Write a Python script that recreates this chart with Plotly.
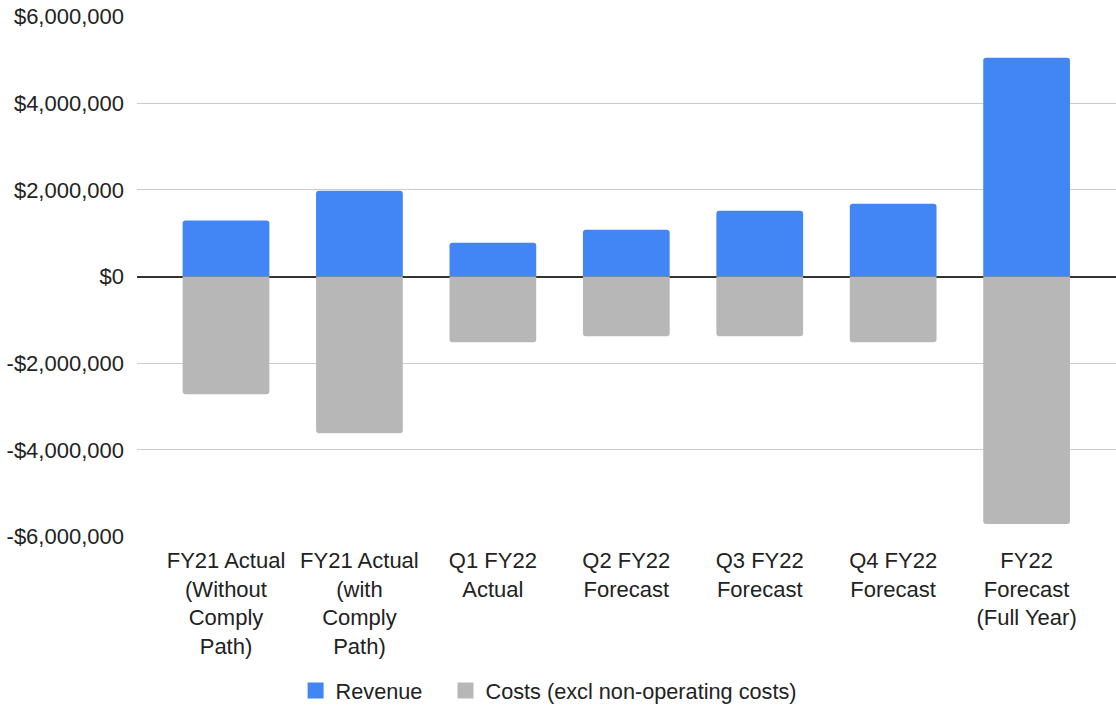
import plotly.graph_objects as go

categories = [
    "FY21 Actual<br>(Without<br>Comply<br>Path)",
    "FY21 Actual<br>(with<br>Comply<br>Path)",
    "Q1 FY22<br>Actual",
    "Q2 FY22<br>Forecast",
    "Q3 FY22<br>Forecast",
    "Q4 FY22<br>Forecast",
    "FY22<br>Forecast<br>(Full Year)",
]
revenue = [1290000, 1980000, 780000, 1080000, 1520000, 1680000, 5050000]
costs = [-2720000, -3620000, -1520000, -1380000, -1380000, -1520000, -5710000]
tick_vals = [-6000000, -4000000, -2000000, 0, 2000000, 4000000, 6000000]
tick_text = ["-$6,000,000", "-$4,000,000", "-$2,000,000", "$0", "$2,000,000", "$4,000,000", "$6,000,000"]
series_names = ["Revenue", "Costs (excl non-operating costs)"]

REV_COLOR = "#4285f4"
COST_COLOR = "#b7b7b7"

x_idx = list(range(len(categories)))
fig = go.Figure()
fig.add_trace(go.Bar(x=x_idx, y=revenue, name=series_names[0], showlegend=False,
                     marker=dict(color=REV_COLOR, line=dict(width=0), cornerradius=3), width=0.65))
fig.add_trace(go.Bar(x=x_idx, y=costs, name=series_names[1], showlegend=False,
                     marker=dict(color=COST_COLOR, line=dict(width=0)), width=0.65))
# legend entries with larger square swatches
fig.add_trace(go.Scatter(x=[None], y=[None], mode="markers", name=series_names[0] + "\u00a0\u00a0\u00a0",
                         marker=dict(symbol="square", size=16, color=REV_COLOR)))
fig.add_trace(go.Scatter(x=[None], y=[None], mode="markers", name=series_names[1],
                         marker=dict(symbol="square", size=16, color=COST_COLOR)))

FONT = 22
fig.update_layout(
    barmode="relative",
    width=1116, height=720,
    margin=dict(l=137, r=0, t=16, b=183),
    paper_bgcolor="white", plot_bgcolor="white",
    font=dict(family="Liberation Sans, Arial, sans-serif", size=FONT, color="#222222"),
    showlegend=True,
    legend=dict(orientation="h", x=0.162, xanchor="left", y=-0.2956, yanchor="middle",
                font=dict(size=21.7), itemsizing="trace", traceorder="normal"),
    xaxis=dict(range=[-0.667, 6.67], tickmode="array", tickvals=x_idx,
               ticktext=categories, showgrid=False, zeroline=False, showline=False, ticks="",
               tickfont=dict(size=FONT), automargin=False, ticklabelstandoff=8),
    yaxis=dict(range=[-6012000, 6012000], tickmode="array", tickvals=tick_vals, ticktext=tick_text,
               showgrid=True, gridcolor="#cccccc", gridwidth=1, zeroline=True, zerolinecolor="#333333",
               zerolinewidth=1.5, ticks="", ticklabelstandoff=12, tickfont=dict(size=FONT),
               automargin=False, ticklabeloverflow="allow"),
)
# remove the browser's default 8px body margin so the figure sits at the window's corner
fig.write_html("out.html", config={"displayModeBar": False},
               post_script="document.body.style.margin='0';")
